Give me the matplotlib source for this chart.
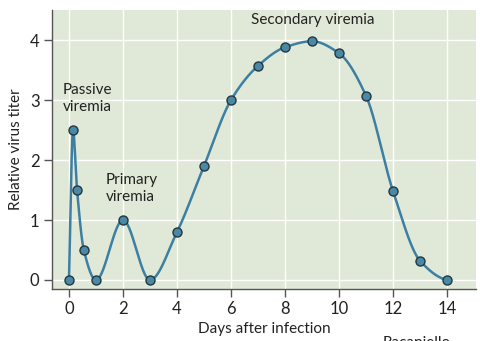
import numpy as np
import matplotlib
matplotlib.use('Agg')
import matplotlib.pyplot as plt

# measured points (days, relative titer)
days = [0, 0.15, 0.3, 0.55, 1, 2, 3, 4, 5, 6, 7, 8, 9, 10, 11, 12, 13, 14]
titer = [0, 2.5, 1.5, 0.5, 0, 1.0, 0, 0.8, 1.9, 3.0, 3.57, 3.88, 3.98, 3.78, 3.07, 1.48, 0.32, 0]

xticks = [0, 2, 4, 6, 8, 10, 12, 14]
yticks = [0, 1, 2, 3, 4]


def pchip(x, y, xs):
    # monotone cubic (Fritsch-Carlson), just for drawing the smooth line
    x = np.asarray(x, float)
    y = np.asarray(y, float)
    h = np.diff(x)
    d = np.diff(y) / h
    m = np.zeros_like(y)
    for k in range(1, len(x) - 1):
        if d[k - 1] * d[k] > 0:
            w1 = 2 * h[k] + h[k - 1]
            w2 = h[k] + 2 * h[k - 1]
            m[k] = (w1 + w2) / (w1 / d[k - 1] + w2 / d[k])
    m[0] = d[0]
    m[-1] = d[-1] * 0.3
    idx = np.clip(np.searchsorted(x, xs) - 1, 0, len(h) - 1)
    t = (xs - x[idx]) / h[idx]
    h00 = 2 * t**3 - 3 * t**2 + 1
    h10 = t**3 - 2 * t**2 + t
    h01 = -2 * t**3 + 3 * t**2
    h11 = t**3 - t**2
    return h00 * y[idx] + h10 * h[idx] * m[idx] + h01 * y[idx + 1] + h11 * h[idx] * m[idx + 1]


plt.rcParams['font.family'] = ['Lato', 'DejaVu Sans']
txt = '#222222'

fig = plt.figure(figsize=(4.81, 3.41), dpi=100)
ax = fig.add_axes([0.108, 0.1525, 0.8815, 0.818])
ax.set_facecolor('#e0e9d8')

xs = np.linspace(0, 14, 1400)
ax.plot(xs, pchip(days, titer, xs), color='#3d7fa2', lw=1.8, zorder=3)
ax.plot(days, titer, 'o', ms=6.5, mfc='#4a89a6', mec='#24363e', mew=1.0, zorder=4)

ax.set_xlim(-0.63, 15.07)
ax.set_ylim(-0.15, 4.5)
ax.set_xticks(xticks)
ax.set_yticks(yticks)
ax.grid(color='white', lw=1.0)
ax.set_axisbelow(True)
for s in ['top', 'right']:
    ax.spines[s].set_visible(False)
for s in ['left', 'bottom']:
    ax.spines[s].set_color('#555555')
    ax.spines[s].set_linewidth(1.0)
ax.tick_params(direction='out', length=6, width=1, color='#555555', labelsize=12,
               labelcolor=txt, pad=3)

ax.set_xlabel('Days after infection', fontsize=11, labelpad=3, color=txt)
ax.set_ylabel('Relative virus titer', fontsize=11, labelpad=5, color=txt)

ax.text(-0.22, 3.28, 'Passive\nviremia', fontsize=11, linespacing=1.25, va='top', color=txt)
ax.text(1.37, 1.78, 'Primary\nviremia', fontsize=11, linespacing=1.25, va='top', color=txt)
ax.text(6.74, 4.45, 'Secondary viremia', fontsize=11, va='top', color=txt)

fig.text(0.795, -0.025, 'Racaniello', fontsize=11, va='bottom', color=txt)

fig.savefig('out.png', dpi=100)
